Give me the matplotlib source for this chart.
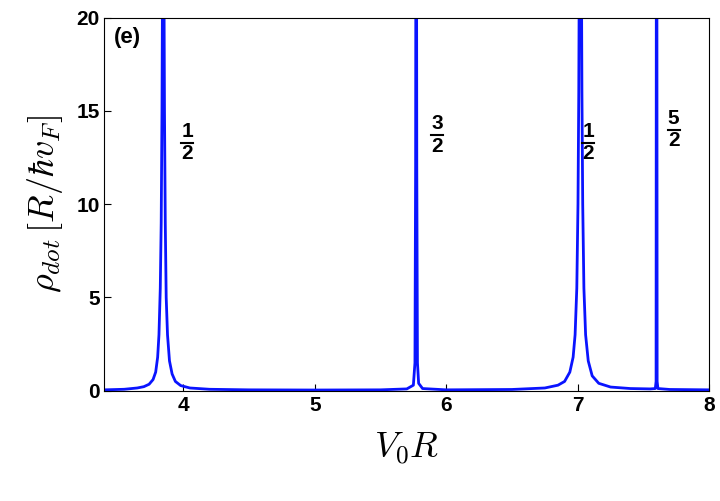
import matplotlib

matplotlib.use("Agg")
import matplotlib.pyplot as plt

plt.rcParams["mathtext.fontset"] = "cm"
plt.rcParams["font.family"] = "Liberation Sans"

V0R = [3.4, 3.55, 3.65, 3.7, 3.74, 3.77, 3.79, 3.805, 3.815, 3.825, 3.832, 3.838, 3.842,
       3.853, 3.857, 3.863, 3.87, 3.88, 3.895, 3.915, 3.94, 3.98, 4.05, 4.2, 4.5,
       5.0, 5.5, 5.7, 5.75, 5.762, 5.767, 5.769, 5.774, 5.776, 5.781, 5.79, 5.82, 6.0,
       6.5, 6.75, 6.85, 6.9, 6.94, 6.965, 6.98, 6.993, 7.002, 7.008, 7.012,
       7.028, 7.032, 7.038, 7.047, 7.06, 7.08, 7.11, 7.16, 7.25, 7.4, 7.55,
       7.59, 7.596, 7.598, 7.602, 7.604, 7.61, 7.7, 8.0]
RHO = [0.05, 0.08, 0.15, 0.22, 0.35, 0.6, 1.0, 1.8, 3.0, 5.5, 9.0, 15, 22,
       22, 15, 9.0, 5.0, 3.0, 1.6, 0.9, 0.5, 0.28, 0.15, 0.08, 0.05,
       0.04, 0.05, 0.1, 0.3, 1.5, 12, 25, 25, 12, 1.5, 0.4, 0.12, 0.05,
       0.07, 0.15, 0.3, 0.5, 1.0, 1.8, 3.0, 5.5, 10, 16, 23,
       23, 16, 10, 5.5, 3.0, 1.6, 0.8, 0.4, 0.2, 0.12, 0.1,
       0.12, 0.5, 25, 25, 0.5, 0.12, 0.07, 0.05]

LABEL_X = [4.03, 5.93, 7.08, 7.73]
LABEL_Y = [13.3, 13.7, 13.3, 14.0]
LABEL_NUM = ["1", "3", "1", "5"]
LABEL_DEN = ["2", "2", "2", "2"]

fig, ax = plt.subplots(figsize=(7.2, 5.01), dpi=100)
fig.subplots_adjust(left=0.145, right=0.985, bottom=0.22, top=0.965)

ax.plot(V0R, RHO, color="#0a14ff", linewidth=2.0)
ax.set_xlim(3.4, 8)
ax.set_ylim(0, 20)
ax.set_xticks([4, 5, 6, 7, 8])
ax.set_yticks([0, 5, 10, 15, 20])
ax.tick_params(labelsize=15, direction="in", length=5)
for t in ax.get_xticklabels() + ax.get_yticklabels():
    t.set_fontweight("bold")

for x, y, n, d in zip(LABEL_X, LABEL_Y, LABEL_NUM, LABEL_DEN):
    ax.text(x, y + 0.1, n, fontsize=15, fontweight="bold", ha="center", va="bottom")
    ax.text(x, y - 0.1, d, fontsize=15, fontweight="bold", ha="center", va="top")
    ax.plot([x - 0.045, x + 0.045], [y, y], color="black", linewidth=1.5)

ax.text(0.015, 0.975, "(e)", transform=ax.transAxes, fontsize=16,
        fontweight="bold", va="top", ha="left")

ax.set_xlabel(r"$V_0R$", fontsize=26, labelpad=12)
ax.set_ylabel(r"$\rho_{dot}\,[R/\hbar v_F]$", fontsize=26, labelpad=8)

fig.savefig("out.png", dpi=100)
